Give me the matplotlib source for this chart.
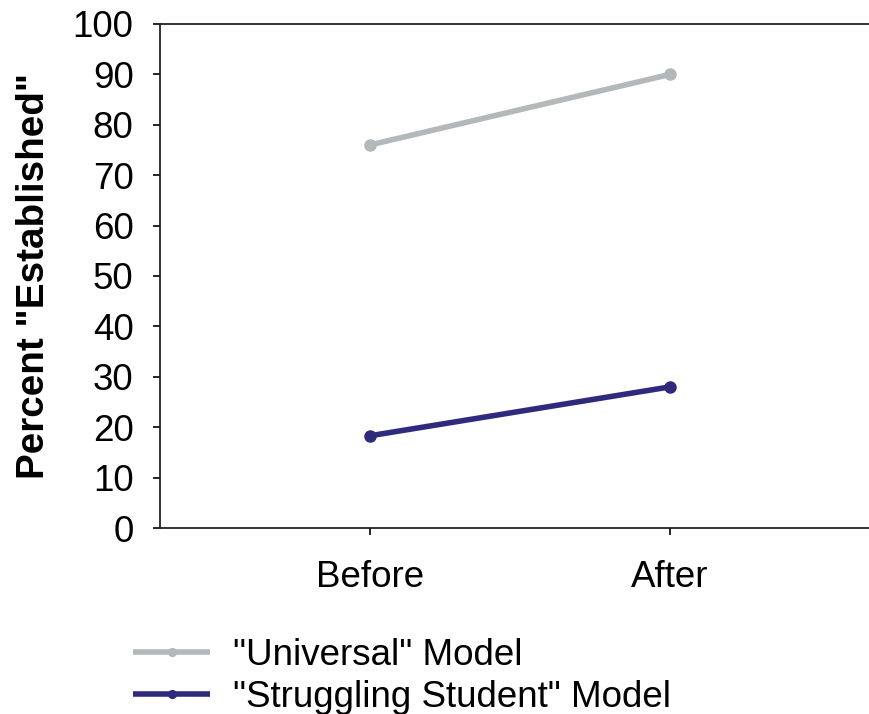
import matplotlib
matplotlib.use("Agg")
import matplotlib.pyplot as plt

plt.rcParams['font.family'] = ['Liberation Sans', 'DejaVu Sans']

phases = ["Before", "After"]
universal = [76, 90]
struggling = [18.3, 28]
yticks = [0, 10, 20, 30, 40, 50, 60, 70, 80, 90, 100]

W, H = 869, 714
fig = plt.figure(figsize=(W / 100, H / 100), dpi=100)
# axes run past the right edge of the figure, as in the original
ax = fig.add_axes([160 / W, (H - 528) / H, (880 - 160) / W, (528 - 24) / H])

x = list(range(len(phases)))
ax.plot(x, universal, color="#b3b8bb", lw=4, marker="o", ms=8,
        solid_capstyle="butt", label='"Universal" Model')
ax.plot(x, struggling, color="#2f2a7c", lw=4, marker="o", ms=8,
        solid_capstyle="butt", label='"Struggling Student" Model')

ax.set_xlim(-0.7, 1.7)
ax.set_ylim(0, 100)
ax.set_xticks(x)
ax.set_xticklabels(phases)
ax.set_yticks(yticks)
ax.tick_params(axis="both", direction="out", length=5, width=1.2,
               labelsize=26.5)
ax.tick_params(axis="y", pad=14)
ax.tick_params(axis="x", pad=18)
ax.set_ylabel('Percent "Established"', fontsize=27.8, fontweight="bold", labelpad=15)

for side in ["left", "bottom", "top", "right"]:
    ax.spines[side].set_linewidth(1.3)
    ax.spines[side].set_color("#222222")

fig.legend(loc="upper left", bbox_to_anchor=(133 / W, 1 - 638 / H),
           frameon=False, fontsize=26.5, handlelength=2.1, handletextpad=0.62,
           labelspacing=0.18, borderpad=0, borderaxespad=0, numpoints=1,
           markerscale=0.7)

fig.savefig("out.png", dpi=100)
